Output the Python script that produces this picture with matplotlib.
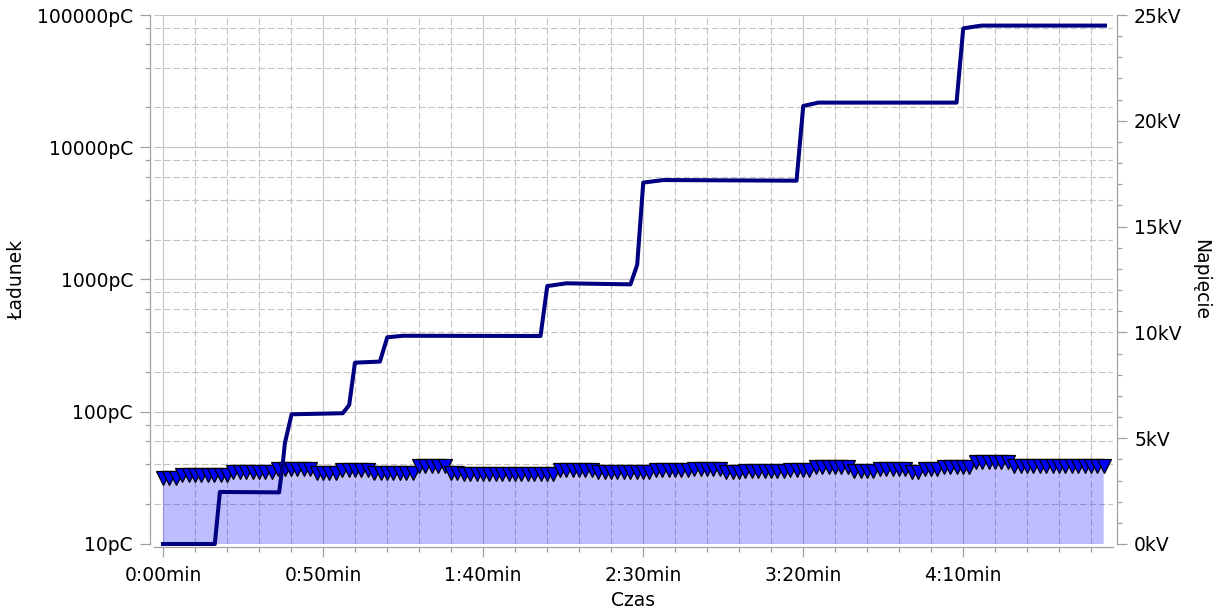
import matplotlib
matplotlib.use('Agg')
import matplotlib.pyplot as plt
from matplotlib.ticker import MultipleLocator, LogLocator, FuncFormatter, NullFormatter

# ---- data ----
# charge (left axis, log) sampled every 2 s
charge_t = list(range(0, 296, 2))
charge_pc = [
    31.8, 31.8, 31.8,
    33.4, 33.4, 33.4, 33.4, 33.4, 33.4, 33.4, 33.4,
    35.3, 35.3, 35.3, 35.3, 35.3, 35.3, 35.3,
    36.9, 36.9, 36.9, 36.9, 36.9, 36.9,
    34.7, 34.7, 34.7, 34.7,
    36.4, 36.4, 36.4, 36.4, 36.4,
    34.3, 34.3, 34.3, 34.3, 34.3,
    34.7, 34.7,
    39.0, 39.0, 39.0, 39.0, 39.0,
    34.3, 34.3,
    33.7, 33.7, 33.7, 33.7, 33.7, 33.7, 33.7, 33.7, 33.7, 33.7, 33.7, 33.7, 33.7, 33.7, 33.7,
    36.4, 36.4, 36.4, 36.4, 36.4, 36.4,
    35.3, 35.3, 35.3, 35.3, 35.3, 35.3, 35.3, 35.3, 35.3,
    36.4, 36.4, 36.4, 36.4, 36.4, 36.4,
    37.2, 37.2, 37.2, 37.2, 37.2,
    35.3, 35.3, 35.3,
    35.8, 35.8, 35.8, 35.8, 35.8, 35.8, 35.8,
    36.4, 36.4, 36.4, 36.4,
    38.3, 38.3, 38.3, 38.3, 38.3, 38.3,
    35.8, 35.8, 35.8, 35.8,
    36.9, 36.9, 36.9, 36.9, 36.9,
    35.3, 35.3,
    36.9, 36.9, 36.9,
    37.9, 37.9, 37.9, 37.9, 37.9,
    42.0, 42.0, 42.0, 42.0, 42.0, 42.0,
    39.0, 39.0, 39.0, 39.0, 39.0, 39.0, 39.0, 39.0, 39.0, 39.0, 39.0, 39.0, 39.0, 39.0, 39.0,
]

# voltage (right axis) vertices
volt_t = [0, 16.2, 17.8, 36.3, 37.4, 38.1, 40.2, 56.2, 58.2, 60.0, 67.8, 70.1, 75.1,
          118.0, 120.1, 126.1, 146.1, 148.2, 150.1, 156.4, 198.0, 200.1, 204.8,
          248.0, 250.1, 255.8, 294.4]
volt_kv = [0, 0, 2.46, 2.44, 3.73, 4.76, 6.13, 6.18, 6.57, 8.57, 8.62, 9.77, 9.84,
           9.83, 12.19, 12.32, 12.27, 13.19, 17.08, 17.20, 17.17, 20.70, 20.86,
           20.86, 24.37, 24.50, 24.50]

x_major_ticks = [0, 50, 100, 150, 200, 250]
x_tick_labels = ['0:00min', '0:50min', '1:40min', '2:30min', '3:20min', '4:10min']

# ---- figure ----
plt.rcParams['font.family'] = ['DejaVu Sans']
FS = 13.5
SPINE = '#a0a0a0'
GRID = '#c4c4c4'

fig = plt.figure(figsize=(12.17, 6.14), dpi=100)
ax = fig.add_axes([0.12654, 0.11401, 0.78800, 0.86156])
ax2 = ax.twinx()

ax.set_yscale('log')
ax.set_ylim(10, 1e5)
ax.set_xlim(-2.8, 296.9)
ax2.set_ylim(0, 25)

ax.fill_between(charge_t, 10, charge_pc, facecolor=(0, 0, 1, 0.26), lw=0, zorder=2)
ax.plot(charge_t, charge_pc, ls='none', marker='v', ms=9.5, mfc='#0000ff',
        mec='black', mew=0.9, zorder=3, clip_on=False)
ax2.plot(volt_t, volt_kv, color='#000080', lw=2.9, zorder=3, clip_on=False)

# x axis
ax.set_xticks(x_major_ticks)
ax.set_xticklabels(x_tick_labels)
ax.xaxis.set_minor_locator(MultipleLocator(10))

# left axis
ax.yaxis.set_major_locator(LogLocator(base=10, numticks=10))
ax.yaxis.set_minor_locator(LogLocator(base=10, subs=(2, 4, 6, 8), numticks=10))
ax.yaxis.set_major_formatter(FuncFormatter(lambda v, p: f'{int(round(v))}pC'))
ax.yaxis.set_minor_formatter(NullFormatter())

# right axis
ax2.yaxis.set_major_locator(MultipleLocator(5))
ax2.yaxis.set_minor_locator(MultipleLocator(1))
ax2.yaxis.set_major_formatter(FuncFormatter(lambda v, p: f'{int(round(v))}kV'))

# grid
ax.grid(which='major', axis='both', color=GRID, lw=0.8, ls='-', zorder=1)
ax.grid(which='minor', axis='both', color=GRID, lw=0.8, ls=(0, (6.0, 2.5)), zorder=1)

# spines
for s in ['top', 'right']:
    ax.spines[s].set_visible(False)
ax.spines['left'].set_position(('outward', 3))
ax.spines['bottom'].set_position(('outward', 2))
for s in ['left', 'bottom']:
    ax.spines[s].set_color(SPINE)
    ax.spines[s].set_linewidth(0.9)
for s in ['top', 'left', 'bottom']:
    ax2.spines[s].set_visible(False)
ax2.spines['right'].set_position(('outward', 3))
ax2.spines['right'].set_color(SPINE)
ax2.spines['right'].set_linewidth(0.9)

for a in (ax, ax2):
    a.tick_params(which='major', length=7.2, width=0.9, color=SPINE, labelsize=FS, pad=5)
    a.tick_params(which='minor', length=3.8, width=0.9, color=SPINE)
ax.tick_params(axis='x', which='major', pad=7)

ax.set_xlabel('Czas', fontsize=FS, va='center')
ax.xaxis.set_label_coords(0.5, -0.106)
ax.set_ylabel('Ładunek', fontsize=FS, va='center', ha='center')
ax.yaxis.set_label_coords(-0.1429, 0.5)
ax2.set_ylabel('Napięcie', fontsize=FS, rotation=270, va='center', ha='center')
ax2.yaxis.set_label_coords(1.0918, 0.5)

fig.savefig('out.png', dpi=100)
